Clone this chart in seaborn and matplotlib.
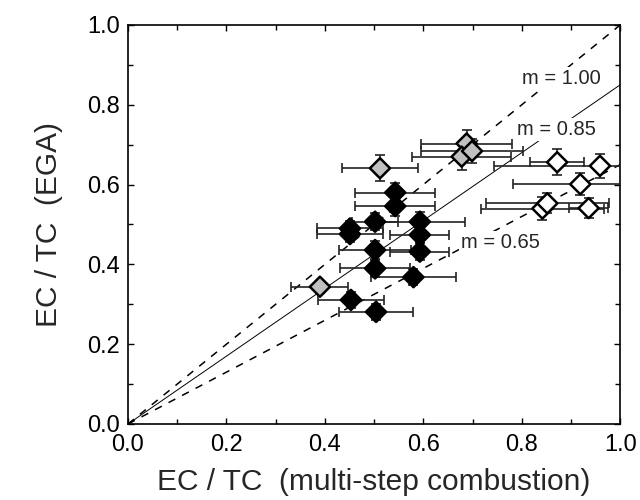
import numpy as np
import pandas as pd
import seaborn as sns
import matplotlib.pyplot as plt
from matplotlib.ticker import MultipleLocator

# black diamonds
black_x = [0.543, 0.543, 0.502, 0.593, 0.451, 0.451, 0.593, 0.502, 0.593, 0.502, 0.580, 0.453, 0.504]
black_y = [0.580, 0.546, 0.507, 0.507, 0.490, 0.476, 0.474, 0.436, 0.432, 0.390, 0.368, 0.311, 0.281]
black_xerr = [0.081, 0.081, 0.046, 0.092, 0.067, 0.067, 0.060, 0.074, 0.060, 0.072, 0.087, 0.067, 0.076]
black_yerr = [0.025, 0.025, 0.022, 0.025, 0.020, 0.020, 0.020, 0.022, 0.022, 0.022, 0.020, 0.020, 0.020]

# grey diamonds
grey_x = [0.390, 0.512, 0.688, 0.678, 0.699]
grey_y = [0.344, 0.641, 0.703, 0.670, 0.684]
grey_xerr = [0.058, 0.077, 0.093, 0.101, 0.104]
grey_yerr = [0.015, 0.032, 0.034, 0.034, 0.030]

# open diamonds
open_x = [0.872, 0.959, 0.919, 0.842, 0.852, 0.936]
open_y = [0.656, 0.647, 0.601, 0.540, 0.553, 0.541]
open_xerr = [0.055, 0.216, 0.136, 0.125, 0.125, 0.040]
open_yerr = [0.033, 0.030, 0.028, 0.028, 0.025, 0.025]

slopes = [1.00, 0.85, 0.65]
slope_labels = ['m = 1.00', 'm = 0.85', 'm = 0.65']

df = pd.DataFrame({
    'x': black_x + grey_x + open_x,
    'y': black_y + grey_y + open_y,
    'xerr': black_xerr + grey_xerr + open_xerr,
    'yerr': black_yerr + grey_yerr + open_yerr,
    'group': ['black'] * len(black_x) + ['grey'] * len(grey_x) + ['open'] * len(open_x),
})

sns.set_theme(style='ticks')
plt.rcParams['font.family'] = ['Liberation Sans', 'DejaVu Sans']

fig, ax = plt.subplots(figsize=(6.4, 5.0), dpi=100)
fig.subplots_adjust(left=0.2, right=0.969, bottom=0.152, top=0.95)

# reference lines through the origin
line_styles = [dict(ls=(0, (5, 5)), lw=1.1), dict(ls='-', lw=0.7), dict(ls=(0, (5, 5)), lw=1.1)]
xs = np.array([0.0, 1.0])
for m, st in zip(slopes, line_styles):
    ax.plot(xs, m * xs, color='black', zorder=1, **st)

# slope labels, white box hides the line below
label_pos = [(0.80, 0.866), (0.79, 0.737), (0.677, 0.454)]
for lab, (lx, ly) in zip(slope_labels, label_pos):
    ax.text(lx, ly, lab, fontsize=14.5, va='center', ha='left', zorder=2,
            bbox=dict(facecolor='white', edgecolor='none', pad=1.5))

ax.errorbar(df['x'], df['y'], xerr=df['xerr'], yerr=df['yerr'], fmt='none',
            ecolor='#222222', elinewidth=1.2, capsize=3.5, capthick=1.2, zorder=3)

sns.scatterplot(data=df, x='x', y='y', hue='group', marker='D', s=105,
                palette={'black': 'black', 'grey': '#c0c0c0', 'open': 'white'},
                edgecolor='black', linewidth=1.8, legend=False, ax=ax, zorder=4)

ax.set_xlim(0, 1)
ax.set_ylim(0, 1)
ax.xaxis.set_major_locator(MultipleLocator(0.2))
ax.yaxis.set_major_locator(MultipleLocator(0.2))
ax.xaxis.set_minor_locator(MultipleLocator(0.1))
ax.yaxis.set_minor_locator(MultipleLocator(0.1))
ax.tick_params(which='both', direction='in', top=True, right=True, width=1.0, colors='black')
ax.tick_params(which='major', length=4, labelsize=17)
ax.tick_params(axis='x', which='major', pad=7)
ax.tick_params(axis='y', which='major', pad=6)
ax.tick_params(which='minor', length=3.5)
for sp in ax.spines.values():
    sp.set_linewidth(1.2)
    sp.set_color('black')

ax.set_xlabel('EC / TC  (multi-step combustion)', fontsize=21.5, labelpad=9)
ax.set_ylabel('EC / TC  (EGA)', fontsize=21.5, labelpad=17)

fig.savefig('out.png', dpi=100)
